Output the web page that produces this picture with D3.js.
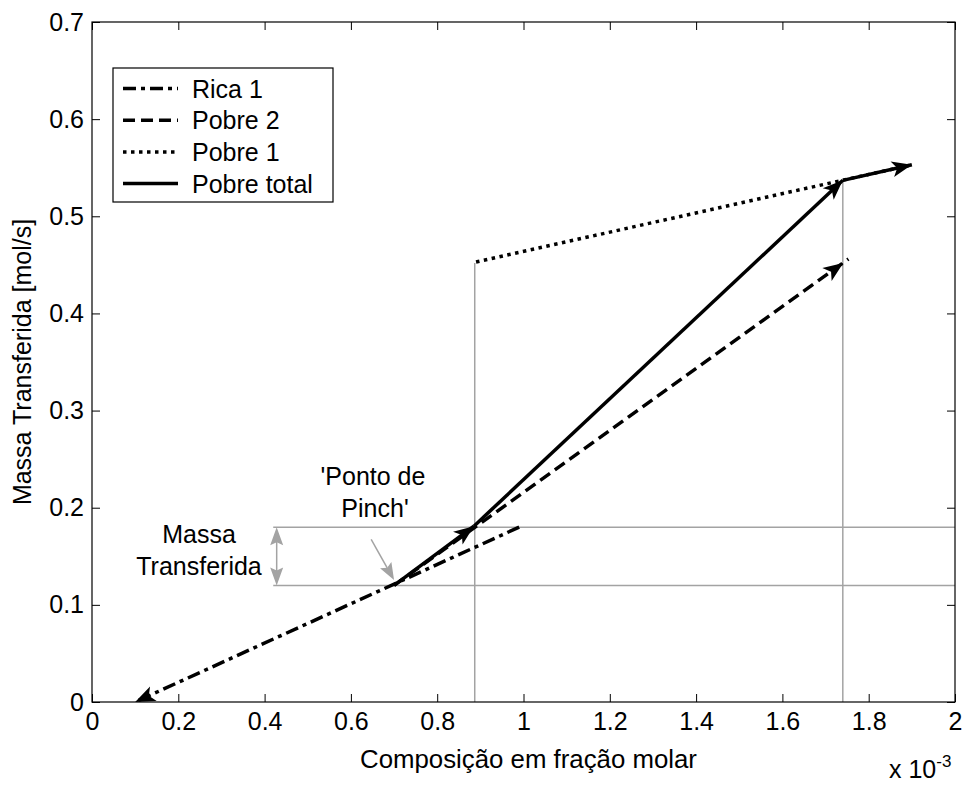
<!DOCTYPE html>
<html><head><meta charset="utf-8">
<script src="https://cdn.jsdelivr.net/npm/d3@7"></script>
<style>
body{margin:0;background:#fff;}
text{font-family:"Liberation Sans",Arial,sans-serif;fill:#000;}
</style></head>
<body><svg id="c" width="967" height="785"></svg>
<script>
// ---- data (x in units of 1e-3 molar fraction, y in mol/s) ----
const xTicks = [0,0.2,0.4,0.6,0.8,1,1.2,1.4,1.6,1.8,2];
const yTicks = [0,0.1,0.2,0.3,0.4,0.5,0.6,0.7];
const legendNames = ["Rica 1","Pobre 2","Pobre 1","Pobre total"];
const rica1X = [0.99, 0.10];
const rica1Y = [0.18, 0.00];
const pobre2X = [0.70, 1.753];
const pobre2Y = [0.12, 0.456];
const pobre2TipX = 1.741, pobre2TipY = 0.452;
const pobre1X = [0.89, 1.90];
const pobre1Y = [0.453, 0.553];
const totalX = [0.70, 0.885, 1.74, 1.90];
const totalY = [0.12, 0.181, 0.537, 0.553];
const guideVX = [0.887, 1.74];
const guideVTop = [0.452, 0.537];
const guideHY = [0.12, 0.18];
const guideHStart = 0.42;
const massaArrowX = 0.428;
const pinchFrom = [0.647, 0.1675];
const pinchTo = [0.700, 0.1256];

// ---- layout ----
const L=92, R=955, T=22, B=702;
const x = d3.scaleLinear().domain([0,2]).range([L,R]);
const y = d3.scaleLinear().domain([0,0.7]).range([B,T]);
const svg = d3.select("#c");
const FS = 25, LFS = 25.8;
const GRAY = "#a3a3a3";
const LW = 3.5;

// axes
const xAxB = d3.axisBottom(x).tickValues(xTicks).tickSize(-8).tickPadding(10).tickFormat(d=>d3.format("~g")(d));
const xAxT = d3.axisTop(x).tickValues(xTicks).tickSize(-8).tickFormat("");
const yAxL = d3.axisLeft(y).tickValues(yTicks).tickSize(-8).tickPadding(8).tickFormat(d=>d3.format("~g")(d));
const yAxR = d3.axisRight(y).tickValues(yTicks).tickSize(-8).tickFormat("");
function styleAx(g){ g.selectAll("path").remove(); g.selectAll("line").attr("stroke","#000").attr("stroke-width",1);
  g.selectAll("text").style("font-size",FS+"px").style("font-family",'"Liberation Sans",Arial,sans-serif').attr("fill","#000"); }

// gray guides (under)
const gG = svg.append("g").attr("stroke",GRAY).attr("stroke-width",1.5).attr("fill","none");
guideVX.forEach((v,i)=>gG.append("line").attr("x1",x(v)).attr("x2",x(v)).attr("y1",y(0)).attr("y2",y(guideVTop[i])));
guideHY.forEach(v=>gG.append("line").attr("x1",x(guideHStart)).attr("x2",x(2)).attr("y1",y(v)).attr("y2",y(v)));

function head(g, tx, ty, fx, fy, len, hw, notch, color){
  const dx = tx-fx, dy = ty-fy, d = Math.hypot(dx,dy), ux=dx/d, uy=dy/d, px=-uy, py=ux;
  const bx = tx-ux*len, by = ty-uy*len;
  const nx = tx-ux*(len-notch), ny = ty-uy*(len-notch);
  g.append("path").attr("d",`M${tx},${ty}L${bx+px*hw},${by+py*hw}L${nx},${ny}L${bx-px*hw},${by-py*hw}Z`)
   .attr("fill",color).attr("stroke","none");
}

// gray arrows
const ga = svg.append("g");
{
  const ax = x(massaArrowX), y1=y(guideHY[0]), y2=y(guideHY[1]);
  ga.append("line").attr("x1",ax).attr("x2",ax).attr("y1",y1-8).attr("y2",y2+8).attr("stroke",GRAY).attr("stroke-width",1.5);
  head(ga, ax, y1, ax, y2, 18, 6.5, 3, GRAY);
  head(ga, ax, y2, ax, y1, 18, 6.5, 3, GRAY);
  const fx=x(pinchFrom[0]), fy=y(pinchFrom[1]), tx=x(pinchTo[0]), ty=y(pinchTo[1]);
  ga.append("line").attr("x1",fx).attr("y1",fy).attr("x2",fx+(tx-fx)*0.7).attr("y2",fy+(ty-fy)*0.7).attr("stroke",GRAY).attr("stroke-width",1.5);
  head(ga, tx, ty, fx, fy, 17, 6.5, 3, GRAY);
}

const line = d3.line().x(d=>x(d[0])).y(d=>y(d[1]));
const gL = svg.append("g").attr("fill","none").attr("stroke","#000").attr("stroke-width",LW).attr("stroke-linecap","butt");
const DASHDOT = "13,5,4,5", DASH = "12,6", DOT = "3.5,4.5";
// Rica 1
gL.append("path").attr("d",line(d3.zip(rica1X,rica1Y))).attr("stroke-dasharray",DASHDOT);
// Pobre 2
gL.append("path").attr("d",line(d3.zip(pobre2X,pobre2Y))).attr("stroke-dasharray",DASH);
// Pobre 1
gL.append("path").attr("d",line(d3.zip(pobre1X,pobre1Y))).attr("stroke-dasharray",DOT);
// Pobre total
for(let i=0;i<totalX.length-1;i++){
  gL.append("path").attr("d",line([[totalX[i],totalY[i]],[totalX[i+1],totalY[i+1]]]));
}
// arrowheads
const gh = svg.append("g");
const HL=20, HW=8, HN=5;
head(gh, x(rica1X[1]), y(rica1Y[1]), x(rica1X[0]), y(rica1Y[0]), HL, HW, HN, "#000");
head(gh, x(pobre2TipX), y(pobre2TipY), x(pobre2X[0]), y(pobre2Y[0]), HL, HW, HN, "#000");
for(let i=1;i<totalX.length;i++){
  head(gh, x(totalX[i]), y(totalY[i]), x(totalX[i-1]), y(totalY[i-1]), HL, HW, HN, "#000");
}

// axes on top
svg.append("rect").attr("x",L).attr("y",T).attr("width",R-L).attr("height",B-T).attr("fill","none").attr("stroke","#000").attr("stroke-width",1.2);
svg.append("g").attr("transform",`translate(0,${B})`).call(xAxB).call(styleAx);
svg.append("g").attr("transform",`translate(0,${T})`).call(xAxT).call(styleAx);
svg.append("g").attr("transform",`translate(${L},0)`).call(yAxL).call(styleAx);
svg.append("g").attr("transform",`translate(${R},0)`).call(yAxR).call(styleAx);

// labels
svg.append("text").attr("x",(L+R)/2+5).attr("y",768).attr("text-anchor","middle").style("font-size",LFS+"px").text("Composição em fração molar");
svg.append("text").attr("transform",`translate(31,${(T+B)/2}) rotate(-90)`).attr("text-anchor","middle").style("font-size",FS+"px").text("Massa Transferida [mol/s]");
const ex = svg.append("text").attr("x",889).attr("y",778).style("font-size",FS+"px");
ex.append("tspan").text("x 10");
ex.append("tspan").attr("dy",-11).style("font-size","17px").text("-3");

// annotations
svg.append("text").attr("x",373).attr("y",485).attr("text-anchor","middle").style("font-size",FS+"px").text("'Ponto de");
svg.append("text").attr("x",375).attr("y",517).attr("text-anchor","middle").style("font-size",FS+"px").text("Pinch'");
svg.append("text").attr("x",199).attr("y",543).attr("text-anchor","middle").style("font-size",FS+"px").text("Massa");
svg.append("text").attr("x",199).attr("y",575).attr("text-anchor","middle").style("font-size",FS+"px").text("Transferida");

// legend
const lg = svg.append("g");
lg.append("rect").attr("x",113).attr("y",68).attr("width",220).attr("height",134).attr("fill","#fff").attr("stroke","#000").attr("stroke-width",1.2);
const dashes = [DASHDOT, DASH, DOT, null];
legendNames.forEach((n,i)=>{
  const yy = 88.5 + i*31.7;
  const ln = lg.append("line").attr("x1",123).attr("x2",178).attr("y1",yy).attr("y2",yy).attr("stroke","#000").attr("stroke-width",LW);
  if(dashes[i]) ln.attr("stroke-dasharray",dashes[i]);
  lg.append("text").attr("x",192).attr("y",yy+9).style("font-size",FS+"px").text(n);
});
</script></body></html>
